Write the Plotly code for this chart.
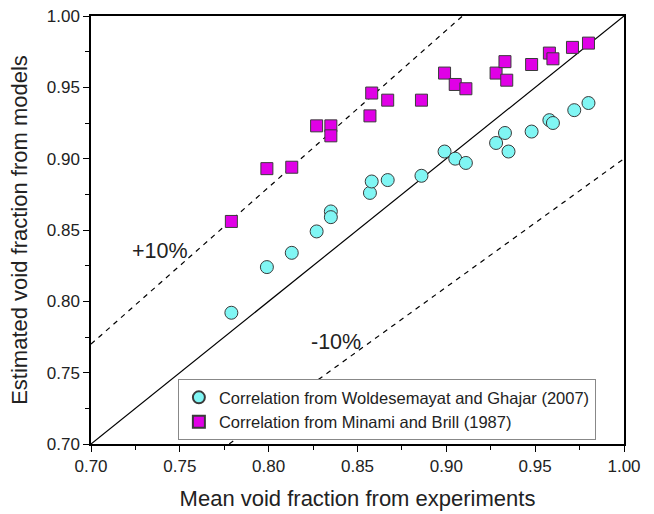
import plotly.graph_objects as go

# Woldesemayat and Ghajar (2007)
wg_x = [0.779, 0.799, 0.813, 0.827, 0.835, 0.835, 0.857, 0.858, 0.867, 0.886, 0.899, 0.905,
        0.911, 0.928, 0.933, 0.935, 0.948, 0.958, 0.960, 0.972, 0.980]
wg_y = [0.792, 0.824, 0.834, 0.849, 0.863, 0.859, 0.876, 0.884, 0.885, 0.888, 0.905, 0.900,
        0.897, 0.911, 0.918, 0.905, 0.919, 0.927, 0.925, 0.934, 0.939]

# Minami and Brill (1987)
mb_x = [0.779, 0.799, 0.813, 0.827, 0.835, 0.835, 0.857, 0.858, 0.867, 0.886, 0.899, 0.905,
        0.911, 0.928, 0.933, 0.934, 0.948, 0.958, 0.960, 0.971, 0.980]
mb_y = [0.856, 0.893, 0.894, 0.923, 0.923, 0.916, 0.930, 0.946, 0.941, 0.941, 0.960, 0.952,
        0.949, 0.960, 0.968, 0.955, 0.966, 0.974, 0.970, 0.978, 0.981]

# reference lines
ref_x = [0.70, 1.00]
ref_y = [0.70, 1.00]
plus_x = [0.70, 1.00 / 1.1]
plus_y = [0.77, 1.00]
minus_x = [0.70 / 0.9, 1.00]
minus_y = [0.70, 0.90]

xticks = [0.70, 0.75, 0.80, 0.85, 0.90, 0.95, 1.00]
yticks = [0.70, 0.75, 0.80, 0.85, 0.90, 0.95, 1.00]

FONT = "Liberation Sans, Arial, sans-serif"

fig = go.Figure()
fig.add_trace(go.Scatter(x=ref_x, y=ref_y, mode="lines", line=dict(color="black", width=1.2),
                         showlegend=False, hoverinfo="skip"))
fig.add_trace(go.Scatter(x=plus_x, y=plus_y, mode="lines",
                         line=dict(color="black", width=1.2, dash="5px,5px"),
                         showlegend=False, hoverinfo="skip"))
fig.add_trace(go.Scatter(x=minus_x, y=minus_y, mode="lines",
                         line=dict(color="black", width=1.2, dash="5px,5px"),
                         showlegend=False, hoverinfo="skip"))
fig.add_trace(go.Scatter(x=wg_x, y=wg_y, mode="markers",
                         name="Correlation from Woldesemayat and Ghajar (2007)",
                         marker=dict(symbol="circle", size=13, color="#80F6F4",
                                     line=dict(color="#3a3a3a", width=1))))
fig.add_trace(go.Scatter(x=mb_x, y=mb_y, mode="markers",
                         name="Correlation from Minami and Brill (1987)",
                         marker=dict(symbol="square", size=12, color="#E000E6",
                                     line=dict(color="#3a3a3a", width=1))))

axis_common = dict(
    showgrid=False, zeroline=False, showline=True, linecolor="black", linewidth=1.5,
    mirror=True, ticks="outside", ticklen=6, tickwidth=1.2, tickcolor="black",
    tickfont=dict(family=FONT, size=17, color="#222"), automargin=False,
    minor=dict(ticks="outside", ticklen=4, tickwidth=1.2, tickcolor="black", dtick=0.025),
)

fig.update_xaxes(range=[0.70, 1.00], tickvals=xticks, tickformat=".2f",
                 title=dict(text="Mean void fraction from experiments",
                            font=dict(family=FONT, size=22, color="#222"), standoff=15),
                 **axis_common)
fig.update_yaxes(range=[0.70, 1.00], tickvals=yticks, tickformat=".2f",
                 title=dict(text="Estimated void fraction from models",
                            font=dict(family=FONT, size=22, color="#222"), standoff=13),
                 **axis_common)

fig.add_annotation(x=0.739, y=0.835, text="+10%", showarrow=False,
                   font=dict(family=FONT, size=21.5, color="#222"))
fig.add_annotation(x=0.838, y=0.7715, text="-10%", showarrow=False,
                   font=dict(family=FONT, size=21.5, color="#222"))

fig.update_layout(
    width=654, height=514,
    margin=dict(l=91, r=30, t=16, b=70),
    plot_bgcolor="white", paper_bgcolor="white",
    legend=dict(x=0.163, y=0.009, xanchor="left", yanchor="bottom",
                bgcolor="white", bordercolor="#888", borderwidth=1,
                font=dict(family=FONT, size=16.5, color="#222"),
                itemsizing="constant", tracegroupgap=0),
)

fig.write_html("out.html")
